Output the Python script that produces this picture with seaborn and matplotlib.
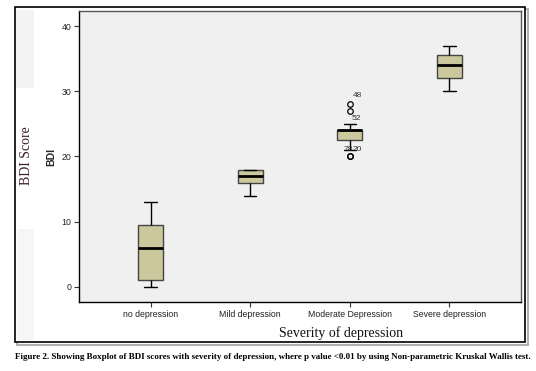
import pandas as pd
import matplotlib.pyplot as plt
import seaborn as sns
from matplotlib.patches import Rectangle

# --- datos (puntuaciones BDI por grupo) ---
categorias = ['no depression', 'Mild depression', 'Moderate Depression', 'Severe depression']
bdi_no = [0, 1, 6, 9.5, 13]
bdi_mild = [14, 16, 17, 18, 18]
bdi_moderate = [20, 20, 21, 22.5, 22.5, 23, 24, 24, 24, 24, 25, 27, 28]
bdi_severe = [30, 32, 34, 35.5, 37]

# etiquetas de casos atipicos (grupo moderado)
outlier_vals = [28, 27, 20, 20]
outlier_ids = ['48', '52', '78', '20']
outlier_off = [(2, 4), (1.5, -8), (-4.5, 2.2), (2, 2.2)]

df = pd.DataFrame({
    'grupo': [categorias[0]] * len(bdi_no) + [categorias[1]] * len(bdi_mild)
             + [categorias[2]] * len(bdi_moderate) + [categorias[3]] * len(bdi_severe),
    'BDI': bdi_no + bdi_mild + bdi_moderate + bdi_severe,
})

sns.set_style('white')
plt.rcParams['font.family'] = ['Liberation Sans', 'DejaVu Sans']

fig = plt.figure(figsize=(5.36, 3.71), dpi=100)
W, H = 536, 371

# marco exterior con sombra
fig.patches.append(Rectangle((17 / W, 1 - 345 / H), 511 / W, 336 / H, transform=fig.transFigure,
                             facecolor='none', edgecolor='#b0b0b0', lw=1.5, zorder=-3))
fig.patches.append(Rectangle((15 / W, 1 - 342 / H), 510 / W, 335 / H, transform=fig.transFigure,
                             facecolor='white', edgecolor='black', lw=1.2, zorder=-2))
fig.patches.append(Rectangle((16 / W, 1 - 88 / H), 18 / W, 78 / H, transform=fig.transFigure,
                             facecolor='#f3f3f3', edgecolor='none', zorder=-1))
fig.patches.append(Rectangle((17 / W, 1 - 340 / H), 17 / W, 111 / H, transform=fig.transFigure,
                             facecolor='#f6f6f6', edgecolor='none', zorder=-1))

ax = fig.add_axes([79 / W, 1 - 302 / H, 442 / W, 291 / H])
ax.set_zorder(2)
ax.set_facecolor('#f0f0f0')

sns.boxplot(
    data=df, x='grupo', y='BDI', order=categorias,
    width=0.25, color='#d3ce97', linecolor='black', linewidth=1,
    fliersize=4,
    flierprops=dict(marker='o', markerfacecolor='none', markeredgecolor='black', markeredgewidth=0.9),
    boxprops=dict(edgecolor='#444444'),
    medianprops=dict(color='black', linewidth=2),
    ax=ax,
)

for v, lab, off in zip(outlier_vals, outlier_ids, outlier_off):
    ax.annotate(lab, (2, v), xytext=off, textcoords='offset points',
                fontsize=6, color='#333333', ha='left', va='bottom')

ax.set_xlim(-0.72, 3.72)
ax.set_ylim(-2.3, 42.3)
ax.set_yticks([0, 10, 20, 30, 40])
ax.tick_params(axis='both', direction='out', length=3.5, width=0.8, color='#333333',
               labelsize=6.3, labelcolor='#222222', pad=2, left=True, bottom=True)
for s in ax.spines.values():
    s.set_color('#555555')
    s.set_linewidth(1)
ax.spines['left'].set_color('black')
ax.spines['bottom'].set_color('black')

ax.set_xlabel('')
ax.set_ylabel('BDI', fontsize=7.5, fontweight='bold', labelpad=4)

fig.text(26 / W, 1 - 156 / H, 'BDI Score', rotation=90, fontsize=10, color='#3b1f24',
         family='Liberation Serif', ha='center', va='center')
fig.text(341 / W, 1 - 333 / H, 'Severity of depression', fontsize=10, color='#111111',
         family='Liberation Serif', ha='center', va='center')
fig.text(15 / W, 1 - 357 / H,
         'Figure 2. Showing Boxplot of BDI scores with severity of depression, where p value <0.01 '
         'by using Non-parametric Kruskal Wallis test.',
         fontsize=6.5, fontweight='bold', family='Liberation Serif', ha='left', va='center', color='black')

fig.savefig('out.png', dpi=100, facecolor='white')
